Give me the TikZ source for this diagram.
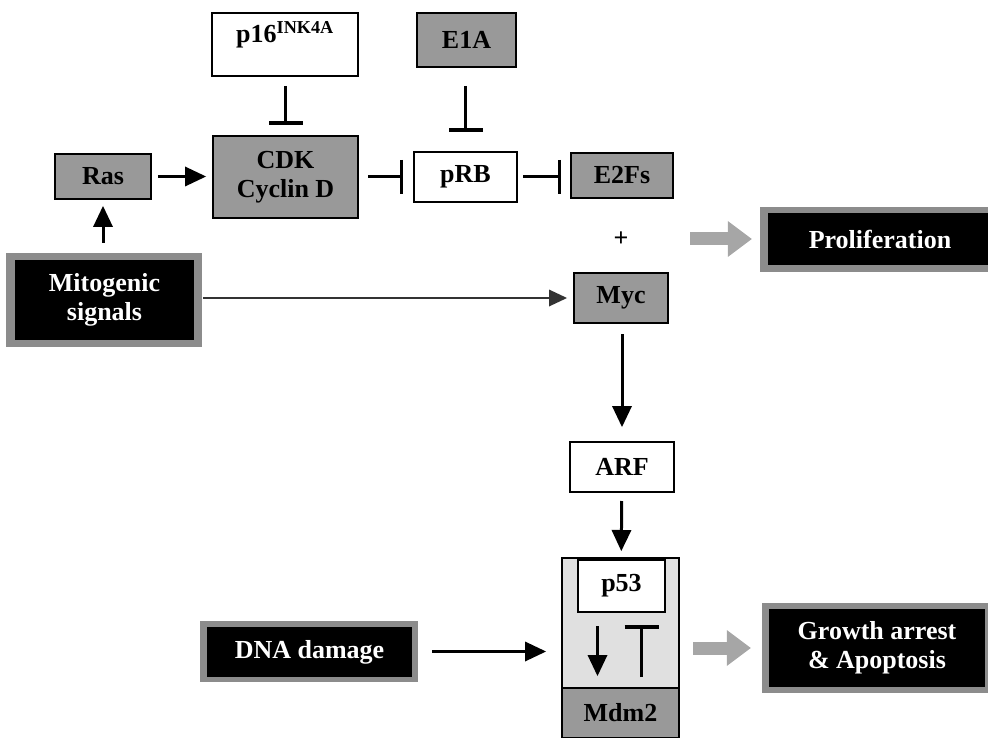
\documentclass[tikz,border=0pt]{standalone}
\usepackage{fontspec}
\setmainfont{Liberation Serif}
\usetikzlibrary{arrows.meta}
\newcommand\dfont{\fontsize{26}{29}\selectfont\bfseries}
\begin{document}
\begin{tikzpicture}[x=1pt,y=-1pt,
  wbox/.style={draw=black, line width=2pt, fill=white, rectangle, inner sep=0pt, align=center, font=\dfont},
  gbox/.style={wbox, fill=black!40},
  frame/.style={rectangle, fill=black!45, inner sep=0pt},
  bbox/.style={rectangle, fill=black, inner sep=0pt, align=center, text=white, font=\dfont},
  arr/.style={line width=3pt, -{Triangle[length=21pt,width=20pt,line width=0pt]}},
  inh/.style={line width=3pt, -{Bar[width=34pt,line width=3.5pt]}},
  sarrow/.style={draw=black!35, line width=13pt, -{Triangle[length=24pt,width=36pt,line width=0pt]}},
]
\useasboundingbox (0,0) rectangle (988,738);

% top row
\node[wbox, minimum width=146pt, minimum height=63pt] (p16) at (285,44.5) {};
\node[font=\dfont, inner sep=0pt] (p16t) at (285,35) {p16\textsuperscript{INK4A}};
\node[gbox, minimum width=99pt, minimum height=54pt] (e1a) at (466.5,40) {E1A};
\node[gbox, minimum width=145pt, minimum height=82pt] (cdk) at (285.5,177) {CDK\\Cyclin D};
\node[gbox, minimum width=96pt, minimum height=45pt] (ras) at (103,176.5) {Ras};
\node[wbox, minimum width=103pt, minimum height=50pt] (prb) at (465.5,177) {pRB};
\node[gbox, minimum width=102pt, minimum height=45pt] (e2f) at (622,175.5) {E2Fs};
\node[font=\dfont, inner sep=0pt] (plus) at (621,239) {+};
\node[gbox, minimum width=94pt, minimum height=50pt] (myc) at (621,298) {Myc};
\node[wbox, minimum width=104pt, minimum height=50pt] (arf) at (622,467) {ARF};

% black boxes with shaded frames
\node[frame, minimum width=196pt, minimum height=94pt] (mitobg) at (104,300) {};
\node[bbox, minimum width=179pt, minimum height=80pt] (mito) at (104.5,300) {Mitogenic\\signals};
\node[frame, minimum width=240pt, minimum height=65pt] (prolifbg) at (880,239.5) {};
\node[bbox, minimum width=224pt, minimum height=52pt] (prolif) at (880,239) {Proliferation};
\node[frame, minimum width=218pt, minimum height=61pt] (dnabg) at (309,651.5) {};
\node[bbox, minimum width=205pt, minimum height=50pt] (dna) at (309.5,652) {DNA damage};
\node[frame, minimum width=238pt, minimum height=90pt] (growthbg) at (881,648) {};
\node[bbox, minimum width=216pt, minimum height=78pt] (growth) at (877,648) {Growth arrest\\\& Apoptosis};

% p53 / Mdm2 container
\node[wbox, fill=black!12, minimum width=117pt, minimum height=180pt] (cont) at (620.5,648) {};
\node[gbox, minimum width=117pt, minimum height=50pt] (mdm2) at (620.5,713) {Mdm2};
\node[wbox, minimum width=87pt, minimum height=52pt] (p53) at (621.5,586) {p53};

% connectors
\draw[arr, shorten <=6pt, shorten >=6pt] (ras) -- (cdk.west |- ras);
\draw[arr, shorten <=10pt, shorten >=6pt] (mitobg.north -| ras) -- (ras);
\draw[inh, shorten <=9pt, shorten >=10pt] (p16.south -| cdk) -- (cdk);
\draw[inh, shorten <=18pt, shorten >=19pt] (e1a.south -| prb) -- (prb);
\draw[inh, shorten <=9pt, shorten >=10pt] (cdk) -- (prb);
\draw[inh, shorten <=5pt, shorten >=9pt] (prb.east) -- (e2f.west |- prb);
\draw[black!80, line width=2pt, -{Triangle[length=18pt,width=17pt,line width=0pt]}, shorten <=1pt, shorten >=6pt] (mitobg.east |- myc) -- (myc);
\draw[arr, shorten <=10pt, shorten >=14pt] (myc.south -| arf) -- (arf);
\draw[arr, shorten <=8pt, shorten >=6pt] (arf) -- (cont);
\draw[arr, shorten <=14pt, shorten >=15pt] (dnabg.east) -- (cont.west |- dnabg);
\draw[arr, shorten <=13pt, shorten >=11pt] ([xshift=-24pt]p53.south) -- ([xshift=-24pt]p53.south |- mdm2.north);
\draw[inh, shorten <=10pt, shorten >=12pt] ([xshift=21pt]mdm2.north) -- ([xshift=21pt]mdm2.north |- p53.south);
\draw[sarrow, shorten >=8pt] ([xshift=69pt]plus.center) -- (prolifbg.west |- plus);
\draw[sarrow, shorten <=13pt, shorten >=11pt] (cont.east |- growthbg) -- (growthbg);
\end{tikzpicture}
\end{document}
